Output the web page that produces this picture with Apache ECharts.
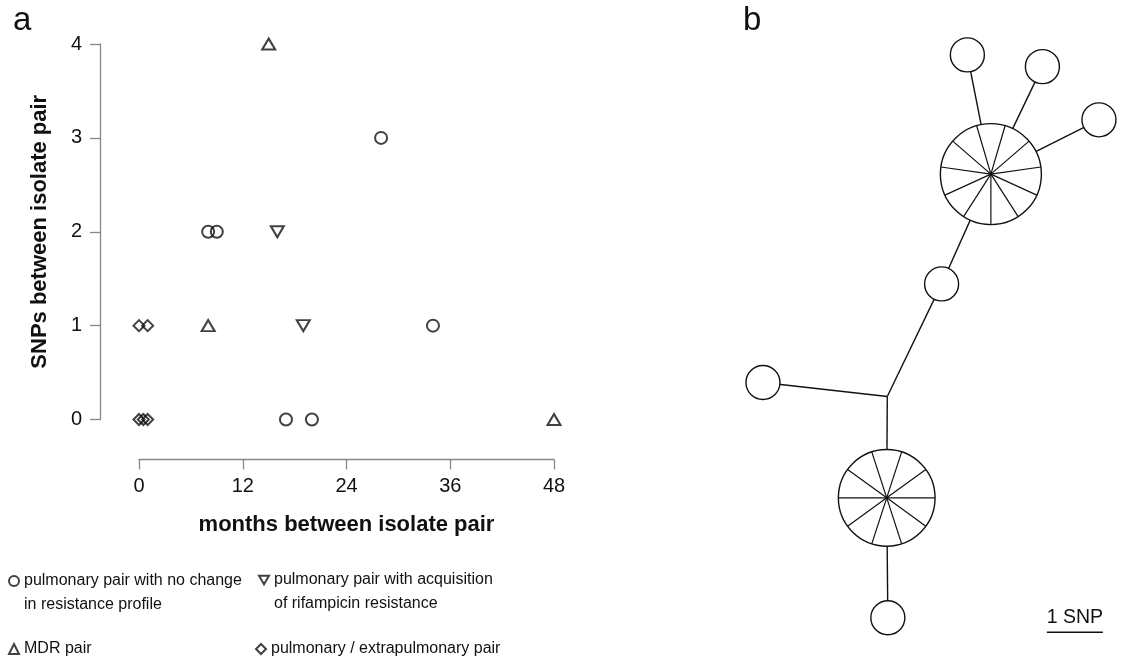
<!DOCTYPE html>
<html>
<head>
<meta charset="utf-8">
<script src="https://cdn.jsdelivr.net/npm/echarts@6/dist/echarts.min.js"></script>
<style>
html,body{margin:0;padding:0;background:#fff;}
#chart{width:1124px;height:663px;}
</style>
</head>
<body>
<div id="chart"></div>
<script>
// ---------- Panel a data ----------
const xTicks = [0, 12, 24, 36, 48];           // months between isolate pair
const yTicks = [0, 1, 2, 3, 4];               // SNPs between isolate pair
const seriesNames = [
  'pulmonary pair with no change\nin resistance profile',
  'pulmonary pair with acquisition\nof rifampicin resistance',
  'MDR pair',
  'pulmonary / extrapulmonary pair'
];
const noChangePairs   = [[28, 3], [8, 2], [9, 2], [34, 1], [17, 0], [20, 0]];
const rifampicinPairs = [[16, 2], [19, 1]];
const mdrPairs        = [[15, 4], [8, 1], [48, 0]];
const extraPulmPairs  = [[0, 1], [1, 1], [0, 0], [0.5, 0], [1, 0]];

// ---------- Panel b data (network, positions in SNP units) ----------
const nodeNames    = ['H1', 'A', 'B', 'C', 'D', 'J', 'E', 'H2', 'F'];
const nodeX        = [4.48, 4.06, 5.40, 6.41, 3.60, 2.63, 0.41, 2.62, 2.64];
const nodeY        = [3.11, 0.98, 1.19, 2.14, 5.07, 7.08, 6.83, 8.89, 11.03];
const nodeIsolates = [11, 1, 1, 1, 1, 0, 1, 10, 1];
const nodeSpokeStart = [90, 0, 0, 0, 0, 0, 0, 0, 0];
const edgeFrom = [0, 0, 0, 0, 4, 6, 5, 7];
const edgeTo   = [1, 2, 3, 4, 5, 5, 7, 8];
const scaleBarLabel = '1 SNP';
const scaleBarPos = [5.48, 11.29];

// ---------- styles ----------
const INK = '#111111';
const AXIS = '#888888';
const FONT = '"Liberation Sans", Arial, sans-serif';
const SNP_PX = 56;
const LEG_SIZE = 16;
const LEG_LH = 24;

const markerStyle = {color: 'rgba(0,0,0,0)', borderColor: INK, borderWidth: 2};
const downTriangleIcon = 'path://M0,0L12,0L6,10.4Z';

function legendFor(name, left, top, twoLine, icon) {
  const l = {
    data: [name], left: left, top: top, padding: 0,
    itemWidth: 10, itemHeight: 10, selectedMode: false,
    textStyle: {color: INK, fontFamily: FONT, fontSize: LEG_SIZE, lineHeight: LEG_LH}
  };
  if (twoLine) l.formatter = function (n) { return '\n' + n; };
  if (icon) l.icon = icon;
  return l;
}

const panelBGrid = {left: 740, top: 0, width: 384, height: 663};

const option = {
  animation: false,
  backgroundColor: '#fff',
  textStyle: {fontFamily: FONT},
  title: [
    {text: 'a', left: 13, top: 4, padding: 0, textStyle: {fontFamily: FONT, fontSize: 33, fontWeight: 'normal', color: INK}},
    {text: 'b', left: 743, top: 4, padding: 0, textStyle: {fontFamily: FONT, fontSize: 33, fontWeight: 'normal', color: INK}}
  ],
  legend: [
    legendFor(seriesNames[0], 8, 545, true),
    legendFor(seriesNames[1], 258, 544, true, downTriangleIcon),
    legendFor(seriesNames[2], 8, 637, false),
    legendFor(seriesNames[3], 255, 637, false)
  ],
  grid: [
    {left: 139, right: 570, top: 44, bottom: 243.5},
    panelBGrid
  ],
  xAxis: [
    {
      type: 'value', gridIndex: 0, min: xTicks[0], max: xTicks[xTicks.length - 1], interval: 12,
      offset: 40,
      name: 'months between isolate pair', nameLocation: 'middle', nameGap: 54,
      nameTextStyle: {fontFamily: FONT, fontSize: 22, fontWeight: 'bold', color: INK},
      axisLine: {show: true, onZero: false, lineStyle: {color: AXIS, width: 1.3}},
      axisTick: {show: true, length: 10, lineStyle: {color: AXIS, width: 1.3}},
      axisLabel: {margin: 17, fontSize: 20, color: INK, fontFamily: FONT},
      splitLine: {show: false}
    },
    {type: 'value', gridIndex: 1, min: 0, max: panelBGrid.width / SNP_PX, show: false}
  ],
  yAxis: [
    {
      type: 'value', gridIndex: 0, min: yTicks[0], max: yTicks[yTicks.length - 1], interval: 1,
      offset: 39,
      name: 'SNPs between isolate pair', nameLocation: 'middle', nameGap: 49,
      nameTextStyle: {fontFamily: FONT, fontSize: 22, fontWeight: 'bold', color: INK},
      axisLine: {show: true, onZero: false, lineStyle: {color: AXIS, width: 1.3}},
      axisTick: {show: true, length: 10, lineStyle: {color: AXIS, width: 1.3}},
      axisLabel: {margin: 18, fontSize: 20, color: INK, fontFamily: FONT},
      splitLine: {show: false}
    },
    {type: 'value', gridIndex: 1, min: 0, max: panelBGrid.height / SNP_PX, inverse: true, show: false}
  ],
  series: [
    {name: seriesNames[0], type: 'scatter', data: noChangePairs, symbol: 'circle', symbolSize: 12, itemStyle: markerStyle, xAxisIndex: 0, yAxisIndex: 0},
    {name: seriesNames[1], type: 'scatter', data: rifampicinPairs, symbol: 'triangle', symbolRotate: 180, symbolSize: [13, 11], itemStyle: markerStyle, xAxisIndex: 0, yAxisIndex: 0},
    {name: seriesNames[2], type: 'scatter', data: mdrPairs, symbol: 'triangle', symbolSize: [13, 11], itemStyle: markerStyle, xAxisIndex: 0, yAxisIndex: 0},
    {name: seriesNames[3], type: 'scatter', data: extraPulmPairs, symbol: 'diamond', symbolSize: [11, 11], itemStyle: markerStyle, xAxisIndex: 0, yAxisIndex: 0},
    // network edges
    {
      type: 'custom', xAxisIndex: 1, yAxisIndex: 1, silent: true, z: 1,
      data: edgeFrom.map((f, i) => [nodeX[f], nodeY[f], nodeX[edgeTo[i]], nodeY[edgeTo[i]]]),
      encode: {x: [0, 2], y: [1, 3]},
      renderItem: function (params, api) {
        const p1 = api.coord([api.value(0), api.value(1)]);
        const p2 = api.coord([api.value(2), api.value(3)]);
        return {type: 'line', shape: {x1: p1[0], y1: p1[1], x2: p2[0], y2: p2[1]},
                style: {stroke: INK, lineWidth: 1.4}};
      }
    },
    // network nodes
    {
      type: 'custom', xAxisIndex: 1, yAxisIndex: 1, silent: true, z: 2,
      data: nodeNames.map((n, i) => [nodeX[i], nodeY[i], nodeIsolates[i], nodeSpokeStart[i]]),
      encode: {x: 0, y: 1},
      renderItem: function (params, api) {
        const n = api.value(2);
        if (!n) return null;
        const c = api.coord([api.value(0), api.value(1)]);
        const r = 17 * Math.pow(n, 0.454);
        const children = [{type: 'circle', shape: {cx: c[0], cy: c[1], r: r},
                           style: {fill: '#fff', stroke: INK, lineWidth: 1.4}}];
        if (n > 1) {
          const a0 = api.value(3) * Math.PI / 180;
          for (let k = 0; k < n; k++) {
            const a = a0 + k * 2 * Math.PI / n;
            children.push({type: 'line', shape: {x1: c[0], y1: c[1], x2: c[0] + r * Math.cos(a), y2: c[1] + r * Math.sin(a)},
                           style: {stroke: INK, lineWidth: 1.2}});
          }
        }
        return {type: 'group', children: children};
      }
    },
    // scale bar
    {
      type: 'custom', xAxisIndex: 1, yAxisIndex: 1, silent: true, z: 2,
      data: [[scaleBarPos[0], scaleBarPos[1], 1]],
      encode: {x: 0, y: 1},
      renderItem: function (params, api) {
        const p = api.coord([api.value(0), api.value(1)]);
        const len = api.size([api.value(2), 0])[0];
        return {type: 'group', children: [
          {type: 'line', shape: {x1: p[0], y1: p[1], x2: p[0] + len, y2: p[1]}, style: {stroke: INK, lineWidth: 1.3}},
          {type: 'text', x: p[0] + len / 2, y: p[1] - 5,
           style: {text: scaleBarLabel, fill: INK, font: '19.5px ' + FONT, textAlign: 'center', textVerticalAlign: 'bottom'}}
        ]};
      }
    }
  ]
};

const chart = echarts.init(document.getElementById('chart'), null, {renderer: 'canvas'});
chart.setOption(option);
</script>
</body>
</html>
